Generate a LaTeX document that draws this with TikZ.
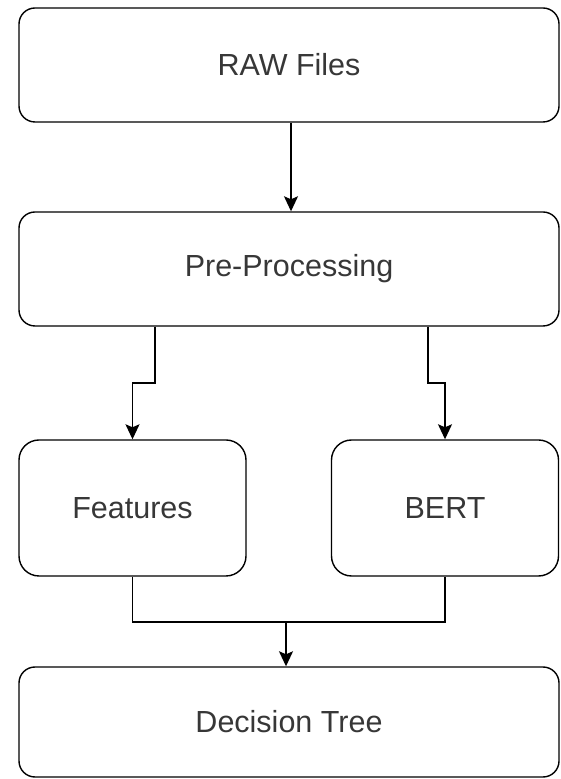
\documentclass[tikz,border=0pt]{standalone}
\usepackage{fontspec}
\setmainfont{Liberation Sans}
\usetikzlibrary{arrows.meta}
\definecolor{txt}{RGB}{55,55,55}
\begin{document}
\begin{tikzpicture}[x=1pt,y=1pt,
  box/.style={draw=black,line width=1.4pt,rounded corners=16pt,inner sep=0pt,
    font=\fontsize{30.5}{36}\selectfont,text=txt},
  wbox/.style={box,minimum width=540pt,minimum height=114pt},
  sbox/.style={box,minimum width=227pt,minimum height=136pt,rounded corners=20pt},
  link/.style={line width=1.4pt,draw=black},
  arr/.style={link,-{Stealth[width=14pt,length=15pt,inset=3pt]}}]
\useasboundingbox (0,0) rectangle (560,779);
\node[wbox] (raw) at (289,714) {RAW Files};
\node[wbox] (pre) at (289,510) {Pre-Processing};
\node[sbox] (feat) at (132.5,271) {Features};
\node[sbox] (bert) at (445,271) {BERT};
\node[wbox,minimum height=110pt] (dt) at (289,57) {Decision Tree};
\coordinate (c1) at (291,0);
\coordinate (cl) at (155,396);
\coordinate (cr) at (428,396);
\coordinate (m) at (286,157);
\draw[arr] (raw.south -| c1) -- (pre.north -| c1);
\draw[arr] (pre.south -| cl) -- (cl) -| (feat.north);
\draw[arr] (pre.south -| cr) -- (cr) -| (bert.north);
\draw[link] (feat.south) -- (feat.south |- m) -- (bert.south |- m) -- (bert.south);
\draw[arr] (m) -- (dt.north -| m);
\end{tikzpicture}
\end{document}
